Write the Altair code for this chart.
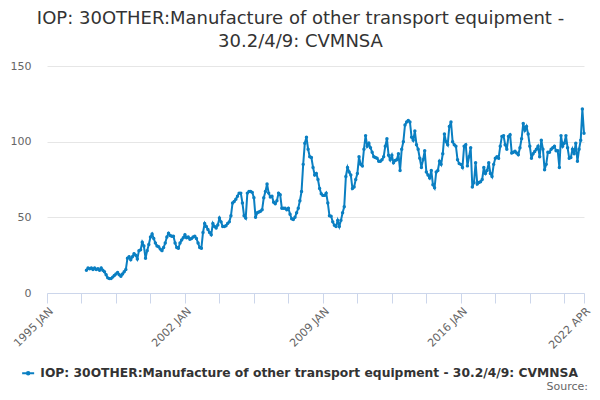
import altair as alt
import pandas as pd

MONTHS = ["JAN", "FEB", "MAR", "APR", "MAY", "JUN", "JUL", "AUG", "SEP", "OCT", "NOV", "DEC"]
START_YEAR = 1995
FIRST_INDEX = 24  # 1997 JAN

v1997 = [15, 16.5, 16, 16.5, 15.5, 16.5, 15.5, 16, 15, 16.5, 15, 14]
v1998 = [12, 10, 9.5, 9.5, 10.5, 11.5, 12.5, 13.5, 12, 11, 12.5, 14]
v1999 = [15.5, 23, 24, 22, 24, 26, 25, 22.5, 28, 28.5, 33.5, 31]
v2000 = [23, 28, 32, 37, 39, 36, 33, 31, 30.5, 29, 28, 30]
v2001 = [33, 37, 39.5, 38, 37.5, 37.5, 33, 30, 29.5, 33, 35, 36.5]
v2002 = [38.5, 36.5, 37, 35.5, 36, 37, 37.5, 36, 33, 30, 29.5, 40]
v2003 = [46, 44, 42, 40, 38.5, 46, 44, 43, 45, 49.5, 47, 44]
v2004 = [44, 44.5, 46, 47, 51, 59.5, 60.5, 62, 64, 66, 66, 59.5]
v2005 = [51, 49.5, 66, 67, 67, 66.5, 63, 50, 53, 53.5, 54, 55]
v2006 = [63, 67, 72, 66, 63.5, 64, 60, 59, 61, 66, 65, 56]
v2007 = [56, 56, 55, 56, 52, 49, 48.5, 50, 53, 56, 61, 67]
v2008 = [85, 99, 103, 95, 90, 89.5, 83, 78, 79, 75, 69, 65.6]
v2009 = [64.5, 64.5, 66, 59.5, 51, 50.7, 47, 44.7, 44, 48, 44, 48]
v2010 = [53, 57, 77, 83, 80, 78, 69, 70, 75, 79, 90, 85]
v2011 = [84, 95, 104, 97, 99, 96, 93, 90, 89.5, 89, 87, 87]
v2012 = [88, 90, 97, 102, 91, 88, 91, 86, 87.5, 88, 92, 81]
v2013 = [95, 100, 111, 113, 114, 113, 103, 101, 107, 98, 95, 89]
v2014 = [83, 88, 94, 80, 78, 76, 81, 71.6, 69.5, 80, 81, 87]
v2015 = [85, 92, 105, 100, 98, 110, 113, 100, 98, 97, 88, 85.5]
v2016 = [85, 83, 97, 98, 84, 90, 96, 70, 73, 86, 72, 73]
v2017 = [73.5, 75, 83, 79, 81, 86, 79, 77, 85, 89, 90, 89]
v2018 = [97, 103.5, 104, 98, 95, 103.5, 104.6, 92.5, 93, 93.6, 92.5, 91.4]
v2019 = [96, 102, 112, 107.5, 110, 105, 97, 89, 92, 93.5, 95, 97]
v2020 = [90, 101, 95, 81.5, 85, 93, 93, 95, 96, 97, 94, 94]
v2021 = [83, 104, 97, 99, 104, 96, 89, 89.5, 95, 92, 99, 87]
v2022 = [95, 101, 121.6, 105.5]

values = (v1997 + v1998 + v1999 + v2000 + v2001 + v2002 + v2003 + v2004 + v2005
          + v2006 + v2007 + v2008 + v2009 + v2010 + v2011 + v2012 + v2013 + v2014
          + v2015 + v2016 + v2017 + v2018 + v2019 + v2020 + v2021 + v2022)

series_name = "IOP: 30OTHER:Manufacture of other transport equipment - 30.2/4/9: CVMNSA"
title_lines = ["IOP: 30OTHER:Manufacture of other transport equipment -", "30.2/4/9: CVMNSA"]
y_ticks = [0, 50, 100, 150]
last_index = 327  # 2022 APR
tick_values = list(range(0, 316, 21)) + [last_index]
label_values = [0, 84, 168, 252, last_index]

idx = list(range(FIRST_INDEX, FIRST_INDEX + len(values)))
df = pd.DataFrame({
    "i": idx,
    "value": values,
    "month": [f"{START_YEAR + k // 12} {MONTHS[k % 12]}" for k in idx],
    "series": series_name,
})

label_map = {v: f"{START_YEAR + v // 12} {MONTHS[v % 12]}" for v in label_values}
label_expr = " : ".join(
    [f"datum.value == {k} ? '{t}'" for k, t in label_map.items()] + ["''"]
)

COLOR = "#0a7fc2"
FONT = "DejaVu Sans"
W, H = 537, 227

legend_symbol = "M -1.2 0 L 1.2 0 M 0.25 0 A 0.25 0.25 0 1 1 -0.25 0 A 0.25 0.25 0 1 1 0.25 0"

line = alt.Chart(df).mark_line(
    strokeWidth=2, point=alt.OverlayMarkDef(size=12, filled=True, color=COLOR)
).encode(
    x=alt.X("i:Q", scale=alt.Scale(domain=[0, last_index], nice=False, zero=False),
            axis=alt.Axis(values=tick_values, labelExpr=label_expr, labelAngle=-45,
                          title=None, grid=False, domainColor="#ccd6eb", tickColor="#ccd6eb",
                          tickSize=10, labelColor="#666666", labelFontSize=11,
                          labelFont=FONT, labelPadding=2, labelOverlap=False,
                          labelBound=False, labelFlush=False)),
    y=alt.Y("value:Q", scale=alt.Scale(domain=[0, 150], nice=False),
            axis=alt.Axis(values=y_ticks, title=None, domain=False, ticks=False,
                          gridColor="#e6e6e6", labelColor="#666666", labelFontSize=11,
                          labelFont=FONT, labelPadding=16)),
    color=alt.Color("series:N", scale=alt.Scale(range=[COLOR]),
                    legend=alt.Legend(title=None, orient="none", legendX=-25, legendY=301,
                                      symbolType=legend_symbol, symbolSize=100,
                                      symbolStrokeWidth=2, labelFontSize=12.3,
                                      labelFontWeight="bold", labelColor="#333333",
                                      labelFont=FONT, labelLimit=700, labelOffset=6)),
    tooltip=["month:N", "value:Q"],
)

source = alt.Chart(pd.DataFrame({"t": ["Source:"]})).mark_text(
    align="right", baseline="alphabetic", fontSize=11, color="#666666", font=FONT
).encode(text="t:N", x=alt.value(W + 4), y=alt.value(324))

chart = alt.layer(line, source).properties(
    width=W, height=H,
    autosize=alt.AutoSizeParams(type="none"),
    padding={"left": 39, "top": 58, "right": 8, "bottom": 99},
    title=alt.TitleParams(text=title_lines, fontSize=18, color="#333333", font=FONT,
                          fontWeight="normal", anchor="middle", dx=-15, offset=9,
                          lineHeight=23),
).configure_view(stroke=None)

chart.save("out.html", embed_options={"renderer": "svg", "actions": False})
